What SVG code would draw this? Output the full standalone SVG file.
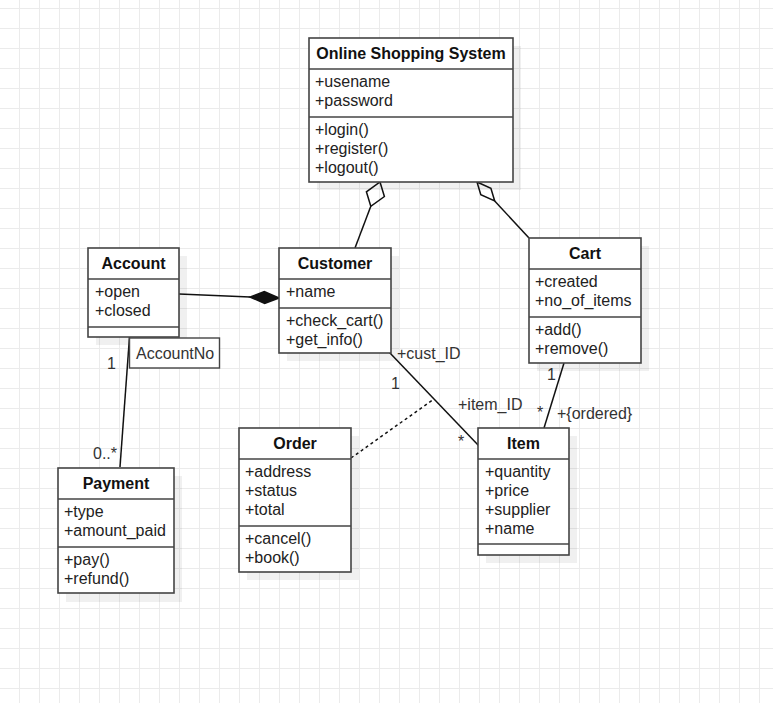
<svg xmlns="http://www.w3.org/2000/svg" width="773" height="703" viewBox="0 0 773 703">
<defs>
<pattern id="grid" x="19" y="8" width="20" height="20" patternUnits="userSpaceOnUse">
<path d="M0.5 0 V20 M0 0.5 H20" fill="none" stroke="#ebebeb" stroke-width="1"/>
</pattern>
<style>
.box{fill:#ffffff;stroke:#444444;stroke-width:1.6}
.sh{fill:#000000;fill-opacity:0.06}
.sep{stroke:#444444;stroke-width:1.6}
.t{font-family:"Liberation Sans",Arial,sans-serif;font-size:16px;fill:#222222}
.h{font-family:"Liberation Sans",Arial,sans-serif;font-size:16px;font-weight:bold;fill:#111111;text-anchor:middle}
.ln{fill:none;stroke:#111111;stroke-width:1.5}
.lb{font-family:"Liberation Sans",Arial,sans-serif;font-size:16px;fill:#333333}
</style>
</defs>
<rect width="773" height="703" fill="#ffffff"/>
<rect width="773" height="703" fill="url(#grid)"/>

<g id="connectors">
<!-- OSS - Customer aggregation -->
<line class="ln" x1="355" y1="248" x2="370.8" y2="206.3"/>
<path class="ln" d="M380,182 L384.4,196.5 L370.8,206.3 L366.4,191.8 Z" fill="#ffffff"/>
<!-- OSS - Cart aggregation -->
<line class="ln" x1="529" y1="238" x2="494.7" y2="201"/>
<path class="ln" d="M477,182 L490.9,188.2 L494.7,201 L480.8,194.8 Z" fill="#ffffff"/>
<!-- Account - Customer composition -->
<line class="ln" x1="179" y1="294" x2="250" y2="297"/>
<path d="M279,298 L264.7,303.4 L250,297 L264.3,291.6 Z" fill="#111111" stroke="#111111" stroke-width="1.5"/>
<!-- Account - Payment -->
<line class="ln" x1="129.5" y1="337" x2="120" y2="467"/>
<!-- Customer - Item -->
<line class="ln" x1="389" y1="352" x2="479" y2="446"/>
<!-- Order association class dashed -->
<line class="ln" x1="351" y1="458" x2="434" y2="399" stroke-dasharray="3 3"/>
<!-- Cart - Item -->
<line class="ln" x1="564" y1="363" x2="544" y2="428"/>
<!-- labels -->
<text class="lb" x="107" y="369">1</text>
<text class="lb" x="93" y="459">0..*</text>
<text class="lb" x="397" y="359">+cust_ID</text>
<text class="lb" x="391" y="389">1</text>
<text class="lb" x="458" y="410">+item_ID</text>
<text class="lb" x="458" y="447">*</text>
<text class="lb" x="547" y="380">1</text>
<text class="lb" x="537" y="418">*</text>
<text class="lb" x="557" y="419">+{ordered}</text>
</g>

<g id="online-shopping-system">
<rect class="sh" x="317" y="46" width="204" height="144"/>
<rect class="box" x="309" y="38" width="204" height="144"/>
<line class="sep" x1="309" y1="69" x2="513" y2="69"/>
<line class="sep" x1="309" y1="117" x2="513" y2="117"/>
<text class="h" x="411" y="59">Online Shopping System</text>
<text class="t" x="315" y="87">+usename</text>
<text class="t" x="315" y="106">+password</text>
<text class="t" x="315" y="135">+login()</text>
<text class="t" x="315" y="154">+register()</text>
<text class="t" x="315" y="173">+logout()</text>
</g>

<g id="account">
<rect class="sh" x="96" y="256" width="91" height="89"/>
<rect class="box" x="88" y="248" width="91" height="89"/>
<line class="sep" x1="88" y1="279" x2="179" y2="279"/>
<line class="sep" x1="88" y1="327" x2="179" y2="327"/>
<text class="h" x="133.5" y="269">Account</text>
<text class="t" x="95" y="297">+open</text>
<text class="t" x="95" y="316">+closed</text>
</g>

<g id="account-no">
<rect x="129.5" y="338" width="90" height="30" fill="#ffffff" stroke="#444444" stroke-width="1.4"/>
<text class="lb" x="136" y="359">AccountNo</text>
</g>

<g id="customer">
<rect class="sh" x="287" y="256" width="112" height="105"/>
<rect class="box" x="279" y="248" width="112" height="105"/>
<line class="sep" x1="279" y1="279" x2="391" y2="279"/>
<line class="sep" x1="279" y1="308" x2="391" y2="308"/>
<text class="h" x="335" y="269">Customer</text>
<text class="t" x="286" y="297">+name</text>
<text class="t" x="286" y="326">+check_cart()</text>
<text class="t" x="286" y="345">+get_info()</text>
</g>

<g id="cart">
<rect class="sh" x="537" y="246" width="112" height="125"/>
<rect class="box" x="529" y="238" width="112" height="125"/>
<line class="sep" x1="529" y1="269" x2="641" y2="269"/>
<line class="sep" x1="529" y1="317" x2="641" y2="317"/>
<text class="h" x="585" y="259">Cart</text>
<text class="t" x="535" y="287">+created</text>
<text class="t" x="535" y="306">+no_of_items</text>
<text class="t" x="535" y="335">+add()</text>
<text class="t" x="535" y="354">+remove()</text>
</g>

<g id="payment">
<rect class="sh" x="66" y="476" width="116" height="126"/>
<rect class="box" x="58" y="468" width="116" height="125"/>
<line class="sep" x1="58" y1="499" x2="174" y2="499"/>
<line class="sep" x1="58" y1="547" x2="174" y2="547"/>
<text class="h" x="116" y="489">Payment</text>
<text class="t" x="64" y="517">+type</text>
<text class="t" x="64" y="536">+amount_paid</text>
<text class="t" x="64" y="565">+pay()</text>
<text class="t" x="64" y="584">+refund()</text>
</g>

<g id="order">
<rect class="sh" x="247" y="436" width="112" height="144"/>
<rect class="box" x="239" y="428" width="112" height="144"/>
<line class="sep" x1="239" y1="459" x2="351" y2="459"/>
<line class="sep" x1="239" y1="526" x2="351" y2="526"/>
<text class="h" x="295" y="449">Order</text>
<text class="t" x="245" y="477">+address</text>
<text class="t" x="245" y="496">+status</text>
<text class="t" x="245" y="515">+total</text>
<text class="t" x="245" y="544">+cancel()</text>
<text class="t" x="245" y="563">+book()</text>
</g>

<g id="item">
<rect class="sh" x="486" y="436" width="91" height="127"/>
<rect class="box" x="478" y="428" width="91" height="127"/>
<line class="sep" x1="478" y1="459" x2="569" y2="459"/>
<line class="sep" x1="478" y1="544" x2="569" y2="544"/>
<text class="h" x="523.5" y="449">Item</text>
<text class="t" x="485" y="477">+quantity</text>
<text class="t" x="485" y="496">+price</text>
<text class="t" x="485" y="515">+supplier</text>
<text class="t" x="485" y="534">+name</text>
</g>
</svg>
